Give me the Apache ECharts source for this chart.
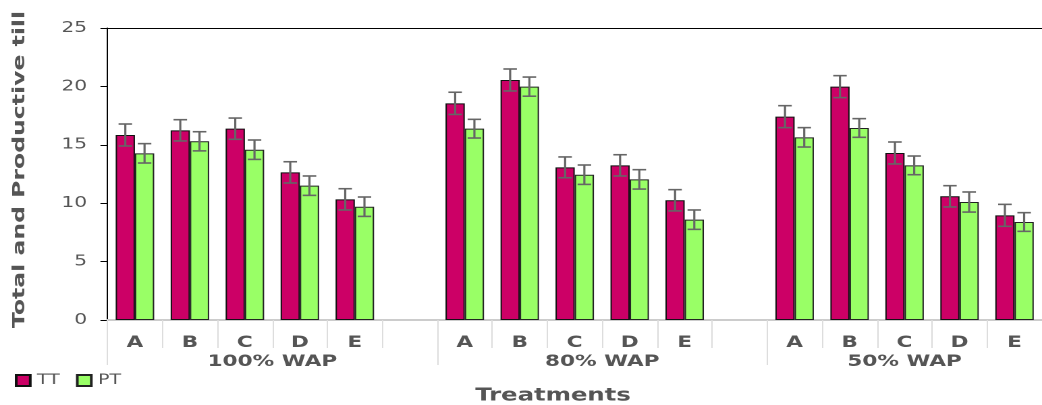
<!DOCTYPE html>
<html>
<head>
<meta charset="utf-8">
<script src="https://cdn.jsdelivr.net/npm/echarts@6/dist/echarts.min.js"></script>
<style>
  html, body { margin: 0; padding: 0; overflow: hidden; background: #fff; }
  /* The chart is laid out on a narrower canvas and widened, giving the broad lettering */
  #chart { width: 772px; height: 405px; transform: scaleX(1.34974); transform-origin: 0 0; }
</style>
</head>
<body>
<div id="chart"></div>
<script>
// Treatments within each water regime
const treatments = ['A', 'B', 'C', 'D', 'E'];
const groupNames = ['100% WAP', '80% WAP', '50% WAP'];

// Means (in group order: 100%, 80%, 50% WAP; A..E)
const ttMeans = [15.84, 16.24, 16.38, 12.64, 10.33, 18.55, 20.55, 13.07, 13.24, 10.25, 17.41, 19.98, 14.30, 10.59, 8.96];
const ptMeans = [14.27, 15.30, 14.58, 11.50, 9.70, 16.38, 19.98, 12.44, 12.04, 8.59, 15.64, 16.44, 13.24, 10.10, 8.39];
// Error bar half-lengths
const ttErr = [0.94, 0.91, 0.91, 0.91, 0.91, 0.95, 0.94, 0.89, 0.91, 0.91, 0.94, 0.94, 0.94, 0.91, 0.94];
const ptErr = [0.83, 0.82, 0.83, 0.83, 0.83, 0.80, 0.82, 0.83, 0.83, 0.83, 0.83, 0.80, 0.80, 0.86, 0.80];

// Value axis ticks
const yMin = 0, yMax = 25, yStep = 5;

const FONT = 'DejaVu Sans';
const TEXT = '#555';

// Build the slot layout: five treatments per regime, one empty slot between regimes
const slots = [];
const ttSlots = [], ptSlots = [], ttErrData = [], ptErrData = [];
const groupBounds = [0];
const groupCenters = [];
let k = 0;
groupNames.forEach((g, gi) => {
  const start = slots.length;
  treatments.forEach(t => {
    const i = slots.length;
    slots.push(t);
    ttSlots.push(ttMeans[k]);
    ptSlots.push(ptMeans[k]);
    ttErrData.push([i, ttMeans[k], ttErr[k]]);
    ptErrData.push([i, ptMeans[k], ptErr[k]]);
    k++;
  });
  if (gi < groupNames.length - 1) {
    slots.push('');
    ttSlots.push('-');
    ptSlots.push('-');
  }
  groupCenters.push((start + slots.length) / 2);
  groupBounds.push(slots.length);
});

const BAR_GAP_CAT = 0.30;               // barCategoryGap
const halfBar = (1 - BAR_GAP_CAT) / 4;  // centre offset of each bar (fraction of band)

function errorBars(side) {
  return function (params, api) {
    const i = api.value(0), v = api.value(1), e = api.value(2);
    const band = api.size([1, 0])[0];
    const cx = api.coord([i, v])[0] + side * halfBar * band;
    const yHi = api.coord([i, v + e])[1];
    const yLo = api.coord([i, v - e])[1];
    const cap = band * 0.123;
    const style = { stroke: '#666', lineWidth: 1.6 };
    return {
      type: 'group',
      children: [
        { type: 'line', shape: { x1: cx, y1: yHi, x2: cx, y2: yLo }, style },
        { type: 'line', shape: { x1: cx - cap, y1: yHi, x2: cx + cap, y2: yHi }, style },
        { type: 'line', shape: { x1: cx - cap, y1: yLo, x2: cx + cap, y2: yLo }, style }
      ]
    };
  };
}

const chart = echarts.init(document.getElementById('chart'), null, { renderer: 'canvas', devicePixelRatio: 2 });

chart.setOption({
  animation: false,
  textStyle: { fontFamily: FONT },
  grid: { left: 79.6, top: 28, width: 696.8, height: 292, containLabel: false },
  legend: {
    data: ['TT', 'PT'],
    left: 6, top: 368.5,
    padding: 5,
    icon: 'rect',
    itemWidth: 10.4, itemHeight: 11, itemGap: 12,
    textStyle: { fontFamily: FONT, fontSize: 14, color: TEXT }
  },
  xAxis: [
    {
      type: 'category',
      data: slots,
      position: 'bottom',
      axisLine: { show: true, lineStyle: { color: '#ccc', width: 2 } },
      axisTick: { show: true, interval: 0, length: 28, alignWithLabel: false, lineStyle: { color: '#ddd', width: 1 } },
      axisLabel: { interval: 0, margin: 15, fontFamily: FONT, fontSize: 16, fontWeight: 'bold', color: TEXT },
      splitLine: { show: false }
    },
    {
      type: 'value',
      min: 0, max: slots.length,
      position: 'bottom',
      axisLine: { show: false },
      axisTick: { show: true, customValues: groupBounds, length: 45, lineStyle: { color: '#ddd', width: 1 } },
      axisLabel: {
        customValues: groupCenters,
        margin: 34,
        fontFamily: FONT, fontSize: 16, fontWeight: 'bold', color: TEXT,
        formatter: v => groupNames[groupCenters.indexOf(v)] || ''
      },
      splitLine: { show: false }
    },
    {
      type: 'value',
      min: 0, max: 1,
      position: 'top',
      axisLine: { show: true, lineStyle: { color: '#000', width: 1 } },
      axisTick: { show: false },
      axisLabel: { show: false },
      splitLine: { show: false }
    }
  ],
  yAxis: {
    type: 'value',
    min: yMin, max: yMax, interval: yStep,
    axisLine: { show: true, lineStyle: { color: '#000', width: 1 } },
    axisTick: { show: true, length: 5.2, lineStyle: { color: '#000', width: 1 } },
    axisLabel: { margin: 15, fontFamily: FONT, fontSize: 15, color: TEXT },
    splitLine: { show: false }
  },
  graphic: [
    {
      type: 'text',
      x: 14.8, y: 169.5,
      rotation: Math.PI / 2,
      scaleX: 1.385, scaleY: 0.73,
      style: {
        text: 'Total and Productive till',
        fontFamily: FONT, fontSize: 17, fontWeight: 'bold',
        fill: TEXT, align: 'center', verticalAlign: 'middle'
      }
    },
    {
      type: 'text',
      x: 409.7, y: 396,
      style: {
        text: 'Treatments',
        fontFamily: FONT, fontSize: 18, fontWeight: 'bold',
        fill: TEXT, align: 'center', verticalAlign: 'middle'
      }
    }
  ],
  series: [
    {
      name: 'TT', type: 'bar', data: ttSlots,
      barCategoryGap: '30%', barGap: '0%',
      itemStyle: { color: '#CC0066', borderColor: '#111', borderWidth: 1 }
    },
    {
      name: 'PT', type: 'bar', data: ptSlots,
      barCategoryGap: '30%', barGap: '0%',
      itemStyle: { color: '#99FF66', borderColor: '#222', borderWidth: 1 }
    },
    {
      name: 'TT error', type: 'custom', renderItem: errorBars(-1),
      data: ttErrData, encode: { x: 0, y: 1 }, z: 5, silent: true
    },
    {
      name: 'PT error', type: 'custom', renderItem: errorBars(1),
      data: ptErrData, encode: { x: 0, y: 1 }, z: 5, silent: true
    }
  ]
});
</script>
</body>
</html>
